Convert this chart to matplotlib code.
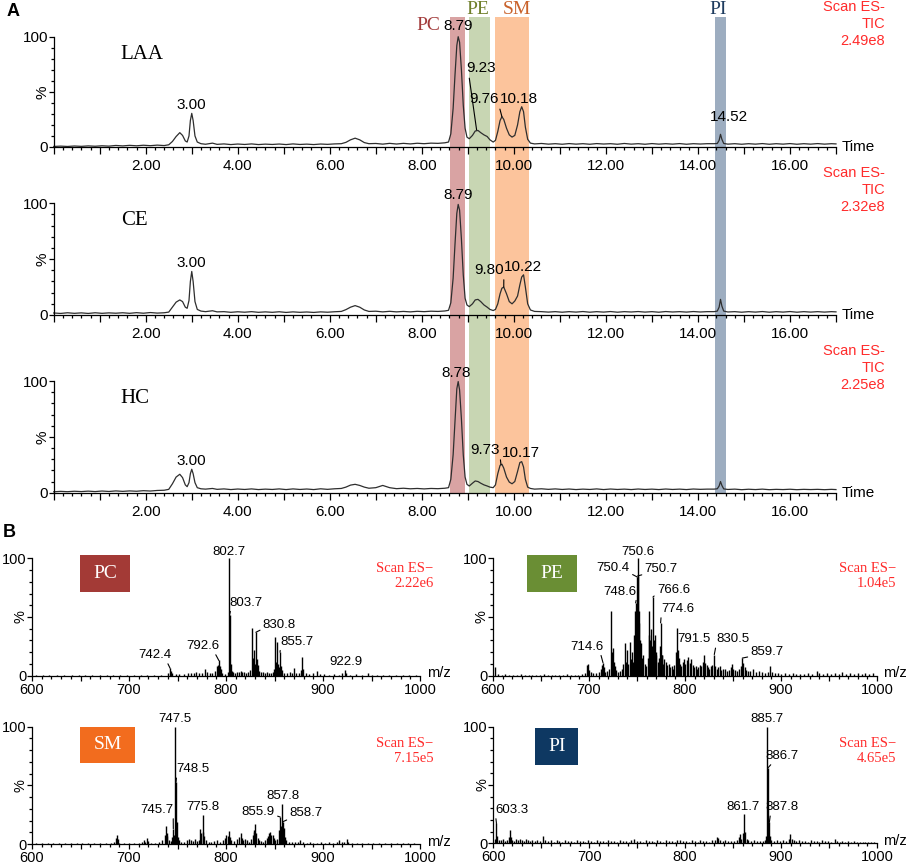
import numpy as np
import matplotlib
matplotlib.use("Agg")
import matplotlib.pyplot as plt
from matplotlib.patches import Rectangle
from matplotlib.ticker import MultipleLocator

SANS = ["Liberation Sans", "DejaVu Sans"]
SERIF = ["Liberation Serif", "DejaVu Serif"]
plt.rcParams["font.family"] = SANS

# ---------------- panel A: total ion chromatograms ----------------
rt = [
    0.00, 0.15, 0.30, 0.45, 0.60, 0.75, 0.90, 1.05, 1.20, 1.35,
    1.50, 1.65, 1.80, 1.95, 2.10, 2.25, 2.40, 2.50, 2.58, 2.66,
    2.74, 2.80, 2.86, 2.90, 2.94, 2.97, 3.00, 3.03, 3.07, 3.12,
    3.20, 3.30, 3.45, 3.55, 3.70, 3.85, 4.00, 4.15, 4.30, 4.45,
    4.60, 4.75, 4.90, 5.05, 5.20, 5.35, 5.50, 5.65, 5.80, 5.95,
    6.10, 6.25, 6.35, 6.45, 6.55, 6.65, 6.75, 6.85, 7.00, 7.15,
    7.30, 7.45, 7.60, 7.75, 7.90, 8.05, 8.20, 8.35, 8.50, 8.58,
    8.63, 8.68, 8.72, 8.76, 8.79, 8.82, 8.86, 8.90, 8.94, 8.98,
    9.03, 9.10, 9.16, 9.22, 9.28, 9.35, 9.42, 9.48, 9.55, 9.60,
    9.65, 9.70, 9.74, 9.78, 9.84, 9.90, 9.96, 10.02, 10.08, 10.13,
    10.17, 10.21, 10.25, 10.30, 10.36, 10.45, 10.60, 10.75, 10.90, 11.05,
    11.20, 11.35, 11.50, 11.65, 11.80, 11.95, 12.10, 12.25, 12.40, 12.55,
    12.70, 12.85, 13.00, 13.15, 13.30, 13.45, 13.60, 13.75, 13.90, 14.05,
    14.20, 14.35, 14.42, 14.46, 14.49, 14.52, 14.56, 14.65, 14.80, 14.95,
    15.10, 15.25, 15.40, 15.55, 15.70, 15.85, 16.00, 16.15, 16.30, 16.45,
    16.60, 16.75, 16.90, 17.00,
]

laa_pct = [
    0.5, 0.8, 0.5, 0.9, 0.6, 1.0, 0.7, 1.1, 0.8, 1.4,
    1.0, 1.5, 1.1, 1.6, 1.2, 1.7, 1.3, 2.0, 5.0, 9.5,
    13.0, 10.5, 5.5, 4.5, 10.0, 24.0, 30.5, 24.0, 10.0, 4.5,
    3.0, 2.5, 3.5, 2.4, 2.8, 2.2, 2.7, 2.3, 2.8, 2.2,
    2.6, 2.3, 2.7, 2.2, 2.8, 2.3, 2.6, 2.2, 2.7, 2.4,
    2.8, 3.0, 4.2, 6.5, 8.0, 6.5, 4.0, 3.0, 3.2, 2.6,
    3.3, 2.7, 3.3, 2.8, 3.4, 3.0, 3.5, 3.3, 3.8, 4.5,
    12.0, 35.0, 65.0, 92.0, 100.0, 95.0, 70.0, 38.0, 17.0, 9.0,
    7.5, 10.5, 14.5, 15.0, 13.0, 11.0, 9.5, 6.5, 4.5, 6.0,
    14.0, 24.0, 27.5, 25.0, 17.0, 11.0, 9.0, 10.5, 20.0, 32.0,
    36.5, 32.0, 18.0, 7.0, 3.5, 2.8, 3.2, 2.6, 3.0, 2.5,
    3.1, 2.6, 3.0, 2.5, 3.1, 2.7, 3.0, 2.5, 3.2, 2.6,
    3.0, 2.5, 3.1, 2.6, 3.0, 2.6, 3.1, 2.5, 3.0, 2.7,
    3.0, 3.0, 3.2, 6.0, 11.5, 7.0, 3.2, 2.6, 3.0, 2.5,
    3.0, 2.6, 3.1, 2.5, 3.0, 2.6, 3.1, 2.5, 3.0, 2.6,
    3.1, 2.6, 3.0, 2.8,
]

ce_pct = [
    1.8, 1.4, 2.0, 1.5, 1.9, 1.4, 2.0, 1.5, 1.9, 1.6,
    2.0, 1.5, 2.1, 1.6, 2.2, 1.7, 2.0, 2.6, 7.0, 11.5,
    13.5, 12.0, 7.0, 6.0, 13.0, 30.0, 39.0, 30.0, 12.0, 5.0,
    3.5, 3.0, 3.8, 2.8, 3.0, 2.4, 2.9, 2.5, 3.0, 2.4,
    2.8, 2.4, 2.9, 2.3, 2.8, 2.4, 2.7, 2.3, 2.8, 2.5,
    2.9, 3.2, 4.8, 7.0, 8.4, 7.0, 4.5, 3.2, 3.4, 2.8,
    3.3, 2.8, 3.2, 2.8, 3.3, 3.0, 3.4, 3.2, 3.6, 4.2,
    11.0, 33.0, 63.0, 91.0, 99.0, 94.0, 68.0, 36.0, 15.0, 9.0,
    7.5, 10.0, 13.5, 14.0, 12.0, 9.0, 7.0, 5.0, 4.0, 5.0,
    10.0, 19.0, 24.0, 25.0, 19.0, 12.0, 10.0, 12.5, 17.0, 27.0,
    34.0, 36.0, 25.0, 10.0, 4.5, 3.2, 3.0, 2.6, 3.0, 2.5,
    3.0, 2.6, 3.1, 2.5, 3.0, 2.6, 3.1, 2.5, 3.0, 2.7,
    3.1, 2.6, 3.0, 2.5, 3.1, 2.7, 3.0, 2.6, 3.1, 2.7,
    3.0, 3.0, 3.5, 7.0, 14.0, 8.0, 3.5, 2.7, 3.0, 2.5,
    3.0, 2.6, 3.1, 2.5, 3.0, 2.6, 3.1, 2.5, 3.0, 2.6,
    3.0, 2.6, 3.0, 2.8,
]

hc_pct = [
    0.8, 1.2, 0.9, 1.3, 1.0, 1.4, 1.0, 1.5, 1.1, 1.6,
    1.2, 1.6, 1.3, 1.8, 1.5, 2.0, 2.2, 3.0, 8.0, 14.0,
    16.5, 13.5, 7.0, 5.4, 9.0, 17.0, 21.0, 17.0, 9.0, 4.5,
    3.5, 3.2, 3.8, 3.0, 3.4, 2.8, 3.3, 2.9, 3.4, 2.8,
    3.2, 2.9, 3.4, 2.8, 3.4, 2.9, 3.3, 2.8, 3.5, 3.0,
    3.5, 3.8, 5.0, 6.8, 7.5, 6.5, 5.0, 4.0, 4.5, 6.5,
    4.5, 3.6, 4.0, 3.5, 3.8, 3.4, 3.8, 3.6, 4.0, 4.5,
    12.0, 34.0, 64.0, 93.0, 99.5, 92.0, 66.0, 34.0, 14.0, 7.5,
    6.0, 8.5, 10.5, 10.0, 8.5, 7.0, 6.0, 5.0, 4.5, 7.0,
    17.0, 24.5, 25.5, 22.0, 14.0, 9.5, 8.0, 10.0, 19.0, 27.0,
    27.8, 23.0, 12.0, 5.0, 3.8, 3.2, 3.5, 3.0, 3.4, 2.9,
    3.3, 2.8, 3.2, 2.9, 3.4, 2.8, 3.3, 2.9, 3.2, 2.8,
    3.3, 2.9, 3.2, 2.8, 3.3, 2.9, 3.2, 2.8, 3.3, 3.0,
    3.2, 3.2, 3.5, 6.0, 10.0, 6.5, 3.4, 2.9, 3.2, 2.7,
    3.1, 2.8, 3.2, 2.7, 3.0, 2.8, 3.1, 2.7, 3.0, 2.8,
    3.0, 2.7, 3.0, 2.8,
]

samples = ["LAA", "CE", "HC"]
tic_scale = ["2.49e8", "2.32e8", "2.25e8"]

# peak labels: text, x, y, leader target, leader anchor on text
laa_labels = [
    ("3.00", 3.00, 38.0, None, None),
    ("8.79", 8.79, 109.7, None, None),
    ("9.23", 9.28, 71.3, (9.19, 15.5), (0.1, 0)),
    ("9.76", 9.36, 43.2, (9.74, 27.5), (1, 0)),
    ("10.18", 10.10, 43.2, None, None),
    ("14.52", 14.67, 27.5, None, None),
]
ce_labels = [
    ("3.00", 3.00, 46.8, None, None),
    ("8.79", 8.79, 107.4, None, None),
    ("9.80", 9.46, 40.3, (9.78, 25.0), (1, 0)),
    ("10.22", 10.20, 42.7, None, None),
]
hc_labels = [
    ("3.00", 3.00, 28.6, None, None),
    ("8.78", 8.75, 106.9, None, None),
    ("9.73", 9.38, 38.2, (9.72, 25.0), (1, 0)),
    ("10.17", 10.16, 35.3, None, None),
]

# retention windows of the lipid classes
classes = ["PC", "PE", "SM", "PI"]
class_windows = [(8.61, 8.94), (9.03, 9.49), (9.60, 10.33), (14.38, 14.61)]
band_colors = ["#d9a3a3", "#c8d6b3", "#fcc49c", "#9dadc0"]
class_text_colors = ["#a23b3b", "#6f7f2a", "#c9622b", "#1d3b5e"]
box_colors = ["#a33a36", "#6a8e34", "#f26c1e", "#0e3862"]

# ---------------- panel B: mass spectra (m/z, %) ----------------
pc_peaks = [
    (604, 1.0), (611, 0.6), (618, 0.8), (626, 0.5), (633, 0.9), (641, 0.6),
    (648, 0.7), (655, 0.5), (662, 0.8), (670, 0.6), (677, 0.9), (684, 0.5),
    (691, 0.7), (698, 0.6), (705, 0.8), (712, 0.6), (719, 0.9), (726, 0.7),
    (733, 1.0), (740.5, 2.0), (742.4, 6.3), (743.4, 4.0), (744.4, 2.5),
    (748, 1.2), (752, 1.5), (757, 1.2), (761, 2.0), (764, 2.6), (767, 2.2),
    (769.5, 3.0), (772, 2.0), (775, 2.4), (778.3, 6.0), (780, 3.0), (783, 2.2),
    (786, 2.6), (789, 4.0), (790.6, 8.0), (791.6, 9.5), (792.6, 13.0),
    (793.6, 8.5), (794.6, 6.0), (796, 2.5), (799, 1.5), (801.6, 3.0),
    (802.7, 100.0), (803.7, 52.0), (804.7, 10.0), (805.7, 4.0), (807, 3.5),
    (809, 2.5), (811, 3.5), (813, 3.0), (815, 4.0), (817, 3.0), (819, 3.5),
    (821, 2.5), (823, 3.0), (824.7, 5.0), (826.7, 41.0), (827.7, 15.0),
    (828.7, 22.0), (829.7, 10.0), (830.8, 37.0), (831.8, 14.0), (832.8, 9.0),
    (834, 4.0), (836, 3.0), (838, 3.5), (840, 2.5), (842, 3.0), (844, 2.0),
    (846, 2.5), (848, 3.0), (849.7, 6.0), (850.7, 33.0), (851.7, 12.0),
    (852.7, 29.0), (853.7, 10.0), (854.7, 7.0), (855.7, 20.0), (856.7, 8.0),
    (857.7, 5.0), (860, 2.5), (863, 2.0), (866, 3.0), (868, 2.0), (870.5, 6.5),
    (872, 2.5), (875, 2.0), (877.7, 5.0), (878.7, 16.0), (879.7, 6.0),
    (882, 2.0), (886, 1.5), (890, 2.0), (893.6, 3.7), (897, 1.5), (901, 1.2),
    (906, 1.0), (911, 1.5), (916, 1.0), (920, 2.0), (922.9, 5.0), (924, 2.0),
    (928, 1.0), (934, 1.2), (940, 0.8), (946, 2.4), (950, 1.0), (956, 0.8),
    (962, 1.0), (968, 0.6), (975, 0.8), (982, 0.5), (989, 0.7), (996, 0.5),
]

pe_peaks = [
    (602.5, 7.0), (605, 1.5), (609, 0.8), (613, 1.2), (617, 0.6), (621, 1.0),
    (625, 0.7), (629, 1.1), (633, 0.6), (637, 0.9), (641, 0.6), (645, 1.0),
    (649, 0.7), (653, 1.2), (657, 0.6), (661, 0.9), (665, 0.7), (669, 1.0),
    (673, 0.8), (677, 1.1), (681, 0.7), (685, 1.0), (689, 0.8), (693, 1.2),
    (696, 2.5), (697.5, 9.0), (699, 10.0), (700.5, 5.0), (702, 3.0), (704, 2.0),
    (707, 2.5), (710, 3.0), (712.6, 6.0), (713.6, 9.0), (714.6, 11.0),
    (715.6, 7.0), (717, 3.0), (719, 4.0), (721, 6.0), (722.6, 55.0),
    (723.6, 20.0), (724.6, 24.0), (725.6, 12.0), (726.6, 8.0), (728, 5.0),
    (730, 3.0), (732, 4.0), (734, 6.0), (735.6, 10.0), (737.6, 28.0),
    (738.6, 12.0), (740, 22.0), (741, 10.0), (742.7, 29.0), (743.7, 14.0),
    (744.5, 20.0), (745.5, 12.0), (746.6, 35.0), (747.6, 55.0), (748.6, 62.0),
    (749.5, 45.0), (750.4, 84.0), (750.6, 100.0), (750.7, 85.0), (751.6, 55.0),
    (752.6, 45.0), (753.6, 30.0), (754.5, 28.0), (755.5, 15.0), (756.5, 18.0),
    (758, 10.0), (759.5, 8.0), (761, 15.0), (762, 35.0), (763, 55.0),
    (764, 30.0), (764.8, 40.0), (765.6, 25.0), (766.6, 67.0), (767.6, 30.0),
    (768.5, 35.0), (769.5, 20.0), (770.3, 18.0), (771.5, 12.0), (772.5, 15.0),
    (773.6, 25.0), (774.6, 45.0), (775.6, 18.0), (776.5, 18.0), (777.5, 10.0),
    (778.5, 14.0), (780, 12.0), (781.5, 9.0), (783, 10.0), (784.5, 7.0),
    (786, 8.0), (787.5, 6.0), (789, 9.0), (790.5, 20.0), (791.5, 41.0),
    (792.5, 22.0), (793.4, 15.0), (794.5, 10.0), (796, 8.0), (797.5, 12.0),
    (799, 14.0), (800.5, 10.0), (802, 13.0), (803.5, 16.0), (805, 11.0),
    (806.5, 14.0), (808, 9.0), (809.5, 7.0), (811, 8.0), (812.5, 6.0),
    (814, 7.0), (815.5, 9.0), (817, 8.0), (818.5, 12.0), (820.3, 18.0),
    (821.3, 11.0), (822.5, 9.0), (824, 7.0), (825.5, 6.0), (827, 8.0),
    (828.5, 9.0), (830.5, 18.0), (831.5, 8.0), (833, 6.0), (834.5, 7.0),
    (836.5, 8.0), (838, 5.0), (840, 6.0), (842, 6.0), (844, 4.0), (846, 5.0),
    (847.5, 7.0), (849, 10.0), (850.5, 6.0), (852, 5.0), (854, 4.0), (856, 6.0),
    (858, 8.0), (859.7, 15.0), (860.7, 11.0), (862, 7.0), (864, 5.0),
    (866, 4.0), (868, 4.0), (871, 6.0), (874, 3.0), (877, 4.0), (880, 3.0),
    (883, 2.5), (886, 3.0), (888.9, 8.0), (891, 3.0), (894, 2.0), (897, 2.5),
    (900, 1.5), (904, 2.0), (908, 1.5), (912, 2.0), (916, 1.2), (920, 1.8),
    (924, 1.2), (928, 2.0), (932, 1.5), (937, 4.0), (940, 2.0), (944, 1.5),
    (948, 2.5), (952, 1.2), (956, 2.0), (960, 1.5), (964, 3.0), (968, 1.5),
    (972, 2.0), (976, 1.2), (980, 2.0), (984, 1.5), (988, 2.5), (992, 1.5),
    (996, 2.0),
]

sm_peaks = [
    (604, 0.8), (610, 0.5), (616, 0.7), (622, 0.5), (628, 0.8), (634, 0.5),
    (640, 0.7), (646, 0.5), (652, 0.8), (658, 0.5), (664, 0.7), (670, 0.6),
    (676, 0.8), (681, 0.6), (685, 1.5), (686.3, 5.0), (687.3, 8.0), (688.3, 4.0),
    (690, 1.0), (695, 0.6), (700, 0.8), (705, 0.6), (710, 0.9), (713, 2.0),
    (715, 3.0), (717, 1.5), (719, 5.0), (720, 2.5), (723, 1.0), (727, 1.2),
    (731, 2.0), (734, 3.0), (736.7, 8.0), (737.8, 15.0), (738.8, 9.0),
    (739.5, 7.0), (741, 3.0), (743, 2.5), (744.7, 6.0), (745.7, 13.0),
    (746.5, 8.0), (747.5, 100.0), (748.5, 53.0), (749.5, 19.0), (750.5, 6.0),
    (752, 3.0), (754, 1.5), (757, 2.0), (760, 3.0), (762, 4.0), (764, 3.0),
    (766, 2.5), (768, 4.3), (770, 2.5), (772, 3.0), (773.4, 13.0), (774.5, 9.0),
    (775.8, 25.0), (776.8, 10.0), (777.8, 7.0), (779, 3.0), (782, 2.0),
    (785, 1.5), (788, 2.5), (791, 3.0), (794, 2.0), (797, 3.5), (799, 5.0),
    (800.5, 8.0), (801.7, 7.0), (802.7, 11.0), (803.7, 6.0), (805, 3.0),
    (808, 2.5), (811, 4.0), (813.5, 6.0), (815, 9.0), (816, 5.0), (818, 3.5),
    (820, 4.0), (822, 3.0), (824, 2.0), (826, 4.0), (827.5, 8.0), (828.5, 12.0),
    (829.3, 10.0), (830.2, 17.0), (831.2, 9.0), (832.5, 5.0), (834, 3.0),
    (836, 2.5), (838, 2.0), (840, 3.0), (842, 5.0), (843.3, 7.0), (844.5, 9.0),
    (845.7, 10.0), (846.7, 8.0), (848, 8.0), (849.5, 5.0), (851, 3.0),
    (853, 4.0), (854.9, 12.0), (855.9, 23.0), (856.9, 15.0), (857.8, 34.0),
    (858.7, 19.0), (859.7, 14.0), (860.7, 6.0), (862, 3.0), (865, 2.0),
    (868, 1.5), (871, 2.0), (874, 1.5), (876, 3.0), (879, 1.5), (883, 1.2),
    (887, 1.8), (890, 1.2), (894, 1.0), (898, 1.5), (902, 1.0), (906, 1.4),
    (910, 1.0), (914, 1.8), (917, 3.0), (920, 1.5), (922, 1.8), (924.4, 4.0),
    (926, 2.0), (930, 1.0), (935, 0.7), (940, 0.9), (946, 0.6), (952, 0.8),
    (958, 0.5), (964, 0.7), (970, 0.5), (976, 0.7), (982, 0.5), (988, 0.6),
    (994, 0.5),
]

pi_peaks = [
    (601.5, 4.0), (603.3, 17.0), (604.3, 6.0), (606, 3.0), (608, 2.5), (610, 4.0),
    (612, 2.0), (614, 3.0), (616, 5.0), (617.3, 11.4), (618.3, 5.0), (620, 3.0),
    (622, 2.0), (624, 3.5), (626, 2.5), (628, 4.0), (630, 3.0), (632, 2.0),
    (634, 3.5), (636, 2.5), (638, 2.0), (640, 3.0), (643, 2.0), (646, 2.5),
    (649, 2.0), (652, 6.0), (654, 3.0), (657, 2.0), (660, 2.5), (663, 1.5),
    (666, 2.5), (669, 2.0), (672, 1.5), (675, 2.5), (678, 1.8), (681, 2.2),
    (684, 1.5), (687, 2.5), (690, 1.8), (693, 2.2), (696, 1.5), (699, 2.5),
    (702, 2.0), (705, 1.5), (708, 2.5), (711, 1.8), (714, 2.2), (717, 1.5),
    (720, 2.5), (723, 1.8), (726, 2.2), (729, 1.5), (732, 2.5), (735, 1.8),
    (738, 2.2), (741, 1.5), (744, 2.5), (747, 3.5), (750, 1.8), (753, 2.2),
    (756, 1.5), (759, 2.5), (762, 1.8), (765, 2.2), (768, 1.5), (771, 2.5),
    (774, 2.0), (777, 1.5), (780, 3.0), (783, 1.8), (786, 2.2), (789, 1.5),
    (792, 2.5), (795, 3.0), (798, 1.8), (801, 2.2), (804, 1.5), (807, 2.5),
    (810, 2.0), (813, 1.5), (816, 2.5), (819, 1.8), (822, 2.2), (825, 1.5),
    (828, 2.5), (831, 3.0), (833, 5.0), (834, 4.5), (836, 3.0), (839, 2.0),
    (842, 2.5), (845, 1.8), (848, 2.2), (851, 2.0), (854, 2.5), (856, 5.0),
    (857, 8.0), (858.5, 4.0), (860.7, 9.0), (861.7, 25.0), (862.7, 10.0),
    (864, 4.0), (866, 2.5), (869, 2.0), (872, 2.5), (875, 1.8), (878, 2.2),
    (881, 2.0), (883, 2.5), (884.7, 6.0), (885.7, 100.0), (886.7, 65.0),
    (887.8, 18.0), (888.8, 6.0), (890, 3.0), (893, 2.0), (896, 2.5), (899, 2.0),
    (902, 2.5), (905, 2.0), (908, 3.5), (909.8, 8.0), (911, 4.0), (913, 2.5),
    (916, 2.0), (919, 2.5), (922, 1.8), (925, 2.2), (928, 1.5), (931, 2.5),
    (934, 1.8), (937, 2.2), (940, 1.5), (943, 2.5), (946, 1.8), (949, 2.2),
    (952, 1.5), (956, 3.4), (958, 2.0), (961, 1.5), (964, 2.2), (967, 1.5),
    (970, 2.0), (973, 1.2), (976, 1.8), (979, 1.2), (982, 1.5), (985, 1.0),
    (988, 1.4), (991, 1.0), (994, 1.2), (997, 1.0),
]

scan_scale = ["2.22e6", "1.04e5", "7.15e5", "4.65e5"]

pc_labels = [
    ("742.4", 726.8, 17.6, (742.4, 6.3), (0.85, 0)),
    ("792.6", 776.0, 25.3, (792.6, 13.0), (0.85, 0)),
    ("802.7", 803.4, 105.6, None, None),
    ("803.7", 820.6, 62.2, (803.7, 52.0), (0.05, 0)),
    ("830.8", 855.0, 43.0, (830.8, 37.0), (0, 0.2)),
    ("855.7", 873.2, 29.0, (855.7, 20.0), (0, 0)),
    ("922.9", 923.7, 11.4, None, None),
]
pe_labels = [
    ("714.6", 697.9, 24.7, (714.6, 11.0), (0.9, 0)),
    ("748.6", 732.3, 71.6, (748.6, 62.0), (1, 0)),
    ("750.4", 725.3, 91.5, (750.4, 84.0), (1, 0.1)),
    ("750.6", 750.7, 105.6, None, None),
    ("750.7", 775.1, 90.6, (750.7, 85.0), (0, 0.1)),
    ("766.6", 788.0, 73.0, (766.6, 67.0), (0, 0.2)),
    ("774.6", 792.5, 56.8, (774.6, 45.0), (0, 0)),
    ("791.5", 808.9, 31.0, None, None),
    ("830.5", 849.6, 31.0, (830.5, 18.0), (0, 0)),
    ("859.7", 885.4, 20.5, (859.7, 15.0), (0, 0.1)),
]
sm_labels = [
    ("747.5", 747.4, 106.3, None, None),
    ("748.5", 766.3, 63.7, (748.5, 53.0), (0, 0)),
    ("745.7", 728.5, 29.0, (745.7, 13.0), (1, 0)),
    ("775.8", 776.6, 31.3, None, None),
    ("855.9", 833.3, 27.6, (855.9, 23.0), (1, 0.2)),
    ("857.8", 858.4, 41.2, None, None),
    ("858.7", 882.5, 26.7, (858.7, 19.0), (0, 0)),
]
pi_labels = [
    ("603.3", 619.7, 28.6, (603.3, 17.0), (0, 0)),
    ("861.7", 860.2, 30.9, None, None),
    ("885.7", 885.7, 106.3, None, None),
    ("886.7", 900.4, 74.9, (886.7, 65.0), (0.25, 0)),
    ("887.8", 900.4, 30.9, (887.8, 18.0), (0.17, 0)),
]

W, H = 913, 865
RED = "#ff2b2b"


def fx(px):
    return px / W


def fy(py):
    return 1 - py / H


def put_labels(ax, labels, size):
    for text, tx, ty, target, rel in labels:
        if target is None:
            ax.text(tx, ty, text, ha="center", va="center", fontsize=size, clip_on=False)
        else:
            ax.annotate(text, xy=target, xytext=(tx, ty), ha="center", va="center",
                        fontsize=size, annotation_clip=False,
                        arrowprops=dict(arrowstyle="-", lw=0.8, color="black",
                                        shrinkA=0, shrinkB=0, relpos=rel))


def style_axes(ax):
    for s in ["top", "right"]:
        ax.spines[s].set_visible(False)
    for s in ["left", "bottom"]:
        ax.spines[s].set_linewidth(0.9)
    ax.patch.set_visible(False)


def draw_chromatogram(ax, pct, labels):
    ax.plot(rt, pct, color="#2e2e2e", lw=0.9, clip_on=False)
    ax.set_xlim(0, 17)
    ax.set_ylim(0, 100)
    ticks = list(range(0, 18))
    ax.set_xticks(ticks, [f"{t:.2f}" if t % 2 == 0 and t > 0 else "" for t in ticks])
    ax.xaxis.set_minor_locator(MultipleLocator(0.2))
    ax.set_yticks([0, 50, 100], ["0", "", "100"])
    ax.yaxis.set_minor_locator(MultipleLocator(10))
    ax.tick_params(axis="x", which="major", length=5, width=0.9, pad=3.5, labelsize=11)
    ax.tick_params(axis="x", which="minor", length=2.5, width=0.9)
    ax.tick_params(axis="y", which="major", length=3.6, width=0.9, pad=0.5, labelsize=11)
    ax.tick_params(axis="y", which="minor", length=2, width=0.9)
    style_axes(ax)
    ax.annotate("%", xy=(0, 50), xytext=(-8, 0), textcoords="offset points",
                rotation=90, ha="center", va="center", fontsize=11)
    ax.text(17.13, 0, "Time", ha="left", va="center", fontsize=11, clip_on=False)
    put_labels(ax, labels, 11)


def draw_spectrum(ax, peaks, labels, name, color, box, scale, scan_pos):
    mz = [p[0] for p in peaks]
    inten = [p[1] for p in peaks]
    ax.vlines(mz, 0, inten, color="black", lw=1.0, clip_on=False)
    ax.set_xlim(600, 1000)
    ax.set_ylim(0, 100)
    ticks = list(range(600, 1001, 50))
    ax.set_xticks(ticks, [str(t) if t % 100 == 0 else "" for t in ticks])
    ax.xaxis.set_minor_locator(MultipleLocator(10))
    ax.set_yticks([0, 50, 100], ["0", "", "100"])
    ax.yaxis.set_minor_locator(MultipleLocator(10))
    ax.tick_params(axis="x", which="major", length=3.6, width=0.9, pad=1.5, labelsize=10.5)
    ax.tick_params(axis="x", which="minor", length=2, width=0.9)
    ax.tick_params(axis="y", which="major", length=3.6, width=0.9, pad=0.5, labelsize=10.5)
    ax.tick_params(axis="y", which="minor", length=2, width=0.9)
    style_axes(ax)
    ax.annotate("%", xy=(600, 50), xytext=(-8, 0), textcoords="offset points",
                rotation=90, ha="center", va="center", fontsize=10.5)
    ax.text(1.017, 0.02, "m/z", transform=ax.transAxes, ha="left", va="center",
            fontsize=10.5)
    x0, x1, y0, y1 = box
    ax.add_patch(Rectangle((x0, y0), x1 - x0, y1 - y0, transform=ax.transAxes,
                           facecolor=color, edgecolor="none", clip_on=False))
    ax.text((x0 + x1) / 2, (y0 + y1) / 2, name, transform=ax.transAxes, ha="center",
            va="center", color="white", fontsize=14, family=SERIF)
    ax.text(scan_pos[0], scan_pos[1], "Scan ES\u2212\n" + scale, transform=ax.transAxes,
            ha="right", va="center", multialignment="right", color=RED, fontsize=10.5,
            family=SERIF)
    put_labels(ax, labels, 9.5)


fig = plt.figure(figsize=(W / 100, H / 100), dpi=100)

# shaded retention windows behind the three chromatograms
bg = fig.add_axes([fx(53.7), fy(493), fx(836) - fx(53.7), (493 - 17) / H])
bg.set_xlim(0, 17)
bg.set_ylim(0, 1)
bg.axis("off")
for (a, b), c in zip(class_windows, band_colors):
    bg.axvspan(a, b, color=c, lw=0)

chrom_rects = [(147.0, 110.3), (315.0, 111.7), (492.7, 111.7)]
chrom_data = [laa_pct, ce_pct, hc_pct]
chrom_labels = [laa_labels, ce_labels, hc_labels]
for (base, height), pct, labels, name, scale in zip(chrom_rects, chrom_data, chrom_labels,
                                                   samples, tic_scale):
    ax = fig.add_axes([fx(53.7), fy(base), fx(836) - fx(53.7), height / H])
    draw_chromatogram(ax, pct, labels)
    top = base - height
    fig.text(fx(120.7), fy(top + 17.5), name, ha="left", va="center", fontsize=15,
             family=SERIF)
    fig.text(fx(885), fy(top - 37), "Scan ES-\nTIC\n" + scale, ha="right", va="top",
             multialignment="right", color=RED, fontsize=10.5, linespacing=1.28)

class_label_pos = [(428, 25), (478, 10), (517, 10), (718, 10)]
for name, (px, py), c in zip(classes, class_label_pos, class_text_colors):
    fig.text(fx(px), fy(py), name, ha="center", va="center", color=c, fontsize=14,
             family=SERIF)

# spectra
spec_rects = [
    [fx(32), fy(675.7), 388 / W, 117.4 / H],
    [fx(493), fy(675.7), 384 / W, 117.4 / H],
    [fx(32), fy(844.0), 388 / W, 117.3 / H],
    [fx(493.3), fy(843.3), 383.7 / W, 116.6 / H],
]
spec_peaks = [pc_peaks, pe_peaks, sm_peaks, pi_peaks]
spec_labels = [pc_labels, pe_labels, sm_labels, pi_labels]
boxes = [(0.124, 0.253, 0.716, 1.028), (0.089, 0.218, 0.710, 1.028),
         (0.124, 0.265, 0.688, 1.000), (0.109, 0.2215, 0.672, 0.991)]
scan_pos = [(1.034, 0.853), (1.049, 0.853), (1.034, 0.795), (1.049, 0.790)]
for rect, peaks, labels, name, color, box, scale, sp in zip(
        spec_rects, spec_peaks, spec_labels, classes, box_colors, boxes, scan_scale, scan_pos):
    ax = fig.add_axes(rect)
    draw_spectrum(ax, peaks, labels, name, color, box, scale, sp)

fig.text(fx(7), fy(3), "A", ha="left", va="top", fontsize=13, weight="bold")
fig.text(fx(3), fy(524), "B", ha="left", va="top", fontsize=13, weight="bold")

fig.savefig("out.png", dpi=100)
